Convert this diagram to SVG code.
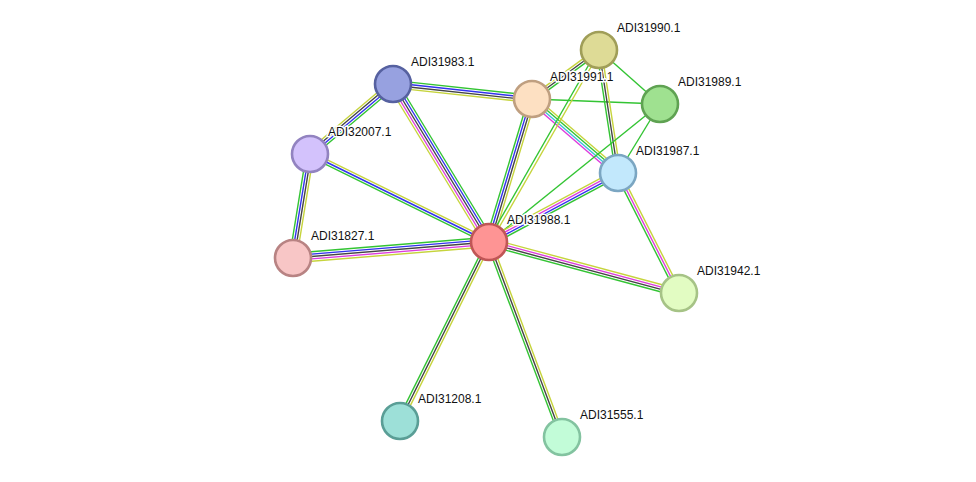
<svg xmlns="http://www.w3.org/2000/svg" width="976" height="482" viewBox="0 0 976 482">
<style>
line{stroke-width:1.4;fill:none}
.g{stroke:#33c433}.b{stroke:#3232ee}.k{stroke:#444}.m{stroke:#dd3cdd}.y{stroke:#c6d43c}.c{stroke:#3cbfd8}
circle{stroke-width:2.6}
text{font-family:"Liberation Sans",Arial,sans-serif;font-size:12px;fill:#111;stroke:#fff;stroke-width:3;stroke-linejoin:round;paint-order:stroke fill}
</style>
<rect width="976" height="482" fill="#fff"/>
<g id="edges">
<g id="e-31988-31827">
<line class="g" x1="489" y1="242" x2="293" y2="258" transform="translate(-0.39,-4.78)"/>
<line class="b" x1="489" y1="242" x2="293" y2="258" transform="translate(-0.2,-2.39)"/>
<line class="k" x1="489" y1="242" x2="293" y2="258"/>
<line class="m" x1="489" y1="242" x2="293" y2="258" transform="translate(0.2,2.39)"/>
<line class="y" x1="489" y1="242" x2="293" y2="258" transform="translate(0.39,4.78)"/>
</g>
<g id="e-31988-32007">
<line class="y" x1="489" y1="242" x2="310" y2="154" transform="translate(1.06,-2.15)"/>
<line class="b" x1="489" y1="242" x2="310" y2="154"/>
<line class="g" x1="489" y1="242" x2="310" y2="154" transform="translate(-1.06,2.15)"/>
</g>
<g id="e-31988-31983">
<line class="g" x1="489" y1="242" x2="393" y2="84" transform="translate(4.1,-2.49)"/>
<line class="b" x1="489" y1="242" x2="393" y2="84" transform="translate(2.05,-1.25)"/>
<line class="k" x1="489" y1="242" x2="393" y2="84"/>
<line class="m" x1="489" y1="242" x2="393" y2="84" transform="translate(-2.05,1.25)"/>
<line class="y" x1="489" y1="242" x2="393" y2="84" transform="translate(-4.1,2.49)"/>
</g>
<g id="e-31983-32007">
<line class="y" x1="393" y1="84" x2="310" y2="154" transform="translate(-2.32,-2.75)"/>
<line class="k" x1="393" y1="84" x2="310" y2="154" transform="translate(-0.77,-0.92)"/>
<line class="b" x1="393" y1="84" x2="310" y2="154" transform="translate(0.77,0.92)"/>
<line class="g" x1="393" y1="84" x2="310" y2="154" transform="translate(2.32,2.75)"/>
</g>
<g id="e-32007-31827">
<line class="g" x1="310" y1="154" x2="293" y2="258" transform="translate(-3.55,-0.58)"/>
<line class="b" x1="310" y1="154" x2="293" y2="258" transform="translate(-1.18,-0.19)"/>
<line class="k" x1="310" y1="154" x2="293" y2="258" transform="translate(1.18,0.19)"/>
<line class="y" x1="310" y1="154" x2="293" y2="258" transform="translate(3.55,0.58)"/>
</g>
<g id="e-31983-31991">
<line class="y" x1="393" y1="84" x2="532" y2="99" transform="translate(-0.39,3.58)"/>
<line class="k" x1="393" y1="84" x2="532" y2="99" transform="translate(-0.13,1.19)"/>
<line class="b" x1="393" y1="84" x2="532" y2="99" transform="translate(0.13,-1.19)"/>
<line class="g" x1="393" y1="84" x2="532" y2="99" transform="translate(0.39,-3.58)"/>
</g>
<g id="e-31991-31988">
<line class="g" x1="532" y1="99" x2="489" y2="242" transform="translate(-3.45,-1.04)"/>
<line class="b" x1="532" y1="99" x2="489" y2="242" transform="translate(-1.15,-0.35)"/>
<line class="k" x1="532" y1="99" x2="489" y2="242" transform="translate(1.15,0.35)"/>
<line class="y" x1="532" y1="99" x2="489" y2="242" transform="translate(3.45,1.04)"/>
</g>
<g id="e-31991-31990">
<line class="y" x1="532" y1="99" x2="599" y2="50" transform="translate(-1.42,-1.94)"/>
<line class="k" x1="532" y1="99" x2="599" y2="50"/>
<line class="g" x1="532" y1="99" x2="599" y2="50" transform="translate(1.42,1.94)"/>
</g>
<line id="e-31991-31989" class="g" x1="532" y1="99" x2="660" y2="104"/>
<g id="e-31991-31987">
<line class="m" x1="532" y1="99" x2="618" y2="173" transform="translate(-2.35,2.73)"/>
<line class="c" x1="532" y1="99" x2="618" y2="173" transform="translate(-0.78,0.91)"/>
<line class="g" x1="532" y1="99" x2="618" y2="173" transform="translate(0.78,-0.91)"/>
<line class="y" x1="532" y1="99" x2="618" y2="173" transform="translate(2.35,-2.73)"/>
</g>
<g id="e-31990-31988">
<line class="g" x1="599" y1="50" x2="489" y2="242" transform="translate(-1.3,-0.75)"/>
<line class="y" x1="599" y1="50" x2="489" y2="242" transform="translate(1.3,0.75)"/>
</g>
<g id="e-31990-31987">
<line class="g" x1="599" y1="50" x2="618" y2="173" transform="translate(-2.37,0.37)"/>
<line class="k" x1="599" y1="50" x2="618" y2="173"/>
<line class="y" x1="599" y1="50" x2="618" y2="173" transform="translate(2.37,-0.37)"/>
</g>
<line id="e-31990-31989" class="g" x1="599" y1="50" x2="660" y2="104"/>
<line id="e-31989-31987" class="g" x1="660" y1="104" x2="618" y2="173"/>
<line id="e-31989-31988" class="g" x1="660" y1="104" x2="489" y2="242"/>
<g id="e-31987-31988">
<line class="y" x1="618" y1="173" x2="489" y2="242" transform="translate(-1.7,-3.17)"/>
<line class="m" x1="618" y1="173" x2="489" y2="242" transform="translate(-0.57,-1.06)"/>
<line class="b" x1="618" y1="173" x2="489" y2="242" transform="translate(0.57,1.06)"/>
<line class="g" x1="618" y1="173" x2="489" y2="242" transform="translate(1.7,3.17)"/>
</g>
<g id="e-31987-31942">
<line class="g" x1="618" y1="173" x2="679" y2="293" transform="translate(-2.14,1.09)"/>
<line class="m" x1="618" y1="173" x2="679" y2="293"/>
<line class="y" x1="618" y1="173" x2="679" y2="293" transform="translate(2.14,-1.09)"/>
</g>
<g id="e-31988-31942">
<line class="y" x1="489" y1="242" x2="679" y2="293" transform="translate(0.93,-3.48)"/>
<line class="m" x1="489" y1="242" x2="679" y2="293" transform="translate(0.31,-1.16)"/>
<line class="k" x1="489" y1="242" x2="679" y2="293" transform="translate(-0.31,1.16)"/>
<line class="g" x1="489" y1="242" x2="679" y2="293" transform="translate(-0.93,3.48)"/>
</g>
<g id="e-31988-31208">
<line class="g" x1="489" y1="242" x2="400" y2="421" transform="translate(-2.15,-1.07)"/>
<line class="k" x1="489" y1="242" x2="400" y2="421"/>
<line class="y" x1="489" y1="242" x2="400" y2="421" transform="translate(2.15,1.07)"/>
</g>
<g id="e-31988-31555">
<line class="g" x1="489" y1="242" x2="562" y2="437" transform="translate(-2.25,0.84)"/>
<line class="k" x1="489" y1="242" x2="562" y2="437"/>
<line class="y" x1="489" y1="242" x2="562" y2="437" transform="translate(2.25,-0.84)"/>
</g>
</g>
<g id="n-ADI31990.1"><circle cx="599" cy="50" r="18" fill="#dedb96" stroke="#a09e58"/><text x="617" y="32">ADI31990.1</text></g>
<g id="n-ADI31989.1"><circle cx="660" cy="104" r="18" fill="#9fe190" stroke="#5fa252"/><text x="678" y="86">ADI31989.1</text></g>
<g id="n-ADI31983.1"><circle cx="393" cy="84" r="18" fill="#97a1e0" stroke="#5661a0"/><text x="411" y="66">ADI31983.1</text></g>
<g id="n-ADI31991.1"><circle cx="532" cy="99" r="18" fill="#fde0c2" stroke="#bf9f80"/><text x="550" y="81">ADI31991.1</text></g>
<g id="n-ADI32007.1"><circle cx="310" cy="154" r="18" fill="#d3c2fc" stroke="#9283c0"/><text x="328" y="136">ADI32007.1</text></g>
<g id="n-ADI31987.1"><circle cx="618" cy="173" r="18" fill="#c2e8fc" stroke="#7ba6c2"/><text x="636" y="155">ADI31987.1</text></g>
<g id="n-ADI31988.1"><circle cx="489" cy="242" r="18" fill="#fe9494" stroke="#c05656"/><text x="507" y="224">ADI31988.1</text></g>
<g id="n-ADI31827.1"><circle cx="293" cy="258" r="18" fill="#f8c6c6" stroke="#b88383"/><text x="311" y="240">ADI31827.1</text></g>
<g id="n-ADI31942.1"><circle cx="679" cy="293" r="18" fill="#e2fcc2" stroke="#a6c386"/><text x="697" y="275">ADI31942.1</text></g>
<g id="n-ADI31208.1"><circle cx="400" cy="421" r="18" fill="#9de0d8" stroke="#5a9e96"/><text x="418" y="403">ADI31208.1</text></g>
<g id="n-ADI31555.1"><circle cx="562" cy="437" r="18" fill="#c2fcd8" stroke="#83c3a0"/><text x="580" y="419">ADI31555.1</text></g>
</svg>
